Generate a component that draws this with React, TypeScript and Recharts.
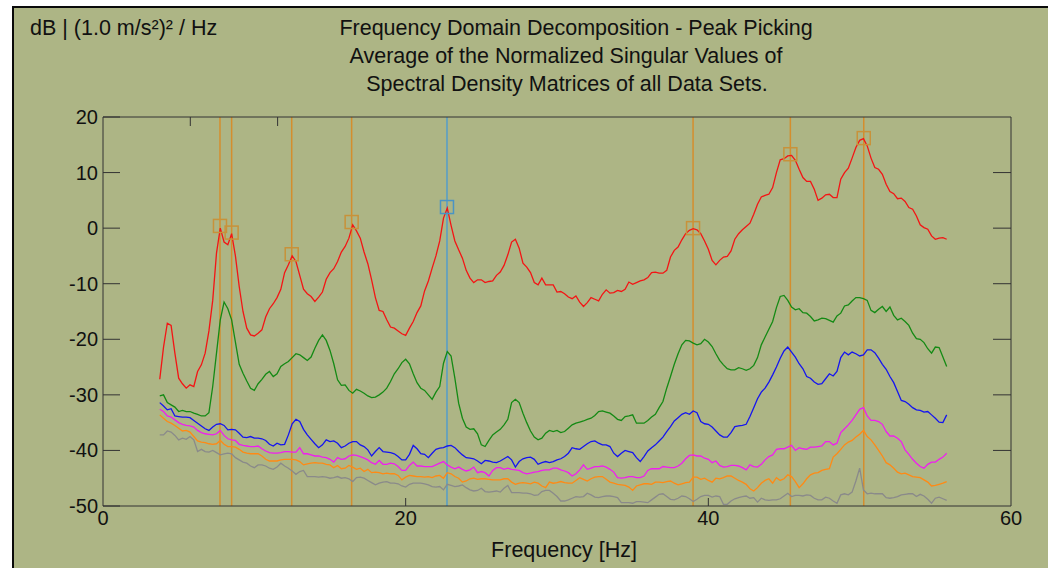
import { ComposedChart, Line, XAxis, YAxis, ReferenceLine, Scatter } from "recharts";

const FONT = '"Liberation Sans", Arial, sans-serif';
const BG = "#adb585";

// spectrum sampled every 0.25 Hz starting at 3.75 Hz
const START_HZ = 3.75;
const STEP_HZ = 0.25;

const sv1 = [
  -27.2,
  -21.4, -17.1, -17.5, -22.5, -27.0, -28.0, -28.8, -28.2,
  -28.5, -25.8, -24.6, -22.5, -18.5, -13.0, -4.5, 0.0,
  -2.5, -3.0, -1.0, -5.0, -10.5, -15.0, -18.0, -19.2,
  -19.4, -18.9, -18.3, -16.0, -14.5, -13.6, -12.5, -11.0,
  -8.0, -6.6, -5.0, -6.0, -8.5, -11.0, -11.8, -12.3,
  -13.2, -12.4, -11.5, -9.2, -8.0, -7.3, -6.0, -4.3,
  -3.3, -1.8, 0.6, -0.5, -1.8, -4.3, -6.4, -9.3,
  -12.5, -14.8, -15.0, -16.5, -17.8, -18.0, -18.5, -19.0,
  -19.3, -18.0, -16.8, -15.2, -14.0, -11.3, -9.5, -7.2,
  -5.0, -2.3, 1.8, 3.6, 0.5, -2.3, -3.9, -5.4,
  -7.6, -9.0, -9.8, -9.3, -9.3, -9.8, -9.6, -9.5,
  -8.5, -7.9, -6.7, -4.8, -2.5, -2.0, -3.6, -6.3,
  -7.0, -8.0, -9.8, -10.2, -9.0, -10.2, -10.2, -10.2,
  -11.5, -11.4, -11.8, -12.4, -12.7, -12.2, -13.3, -14.1,
  -13.4, -12.5, -12.8, -13.1, -11.9, -11.1, -11.7, -11.6,
  -11.2, -11.4, -11.0, -9.7, -10.1, -9.8, -9.5, -9.3,
  -8.9, -8.0, -7.9, -8.1, -8.1, -7.6, -5.2, -4.0,
  -3.4, -2.1, -1.0, -0.4, -0.1, -0.3, -1.0, -2.3,
  -3.8, -5.8, -6.6, -5.8, -5.2, -5.1, -4.1, -2.0,
  -1.0, -0.3, 0.3, 0.9, 2.5, 4.3, 5.6, 5.9,
  6.1, 7.3, 10.0, 12.3, 12.5, 13.0, 13.1, 12.2,
  10.6, 9.1, 8.4, 8.4, 7.0, 5.0, 5.4, 6.0,
  6.1, 5.5, 5.5, 8.8, 10.0, 10.8, 12.6, 14.5,
  15.8, 16.1, 14.8, 12.6, 10.9, 10.6, 9.7, 7.9,
  6.6, 6.2, 5.3, 5.4, 4.8, 3.7, 3.4, 2.2,
  0.6, 0.1, -0.2, -1.4, -2.0, -1.8, -1.7, -2.0,
];

const sv2 = [
  -30.2,
  -30.0, -31.4, -31.8, -32.2, -33.0, -32.8, -33.0, -33.0,
  -33.3, -33.5, -33.8, -33.8, -33.2, -28.5, -22.5, -16.5,
  -13.3, -14.5, -16.5, -20.5, -24.5, -26.1, -27.5, -28.8,
  -29.2, -28.0, -27.2, -26.3, -25.8, -26.7, -26.2, -24.9,
  -24.4, -24.0, -23.3, -22.6, -22.8, -23.3, -23.8, -23.2,
  -21.6, -20.2, -19.2, -20.2, -22.0, -24.4, -27.3, -28.3,
  -28.2, -29.2, -29.7, -29.0, -29.3, -29.7, -30.2, -30.5,
  -30.4, -30.0, -29.5, -28.8, -27.6, -26.2, -25.3, -24.2,
  -23.6, -24.4, -26.2, -27.8, -28.8, -29.2, -30.0, -30.8,
  -29.5, -28.5, -24.3, -22.2, -23.0, -27.0, -31.5, -34.2,
  -35.8, -36.2, -36.1, -37.0, -39.0, -39.3, -38.2, -37.2,
  -36.7, -36.2, -35.4, -34.4, -31.4, -30.8, -31.4, -33.3,
  -35.0, -36.5, -37.6, -38.1, -37.8, -36.9, -36.4, -36.6,
  -36.4, -36.8, -36.6, -36.0, -35.4, -35.1, -34.9, -34.7,
  -34.4, -34.2, -33.7, -33.0, -32.9, -33.1, -33.3, -33.8,
  -34.4, -34.6, -33.9, -33.8, -33.6, -35.1, -35.1, -35.1,
  -34.6, -34.0, -33.5, -32.3, -31.2, -28.8, -26.7, -24.5,
  -22.6, -21.0, -20.2, -20.3, -20.7, -21.0, -20.8, -20.0,
  -20.5, -21.3, -22.6, -23.8, -24.6, -25.3, -25.5, -25.5,
  -25.1, -25.3, -25.6, -25.3, -24.7, -23.3, -21.0, -19.6,
  -18.2, -16.8, -14.3, -12.3, -12.1, -13.0, -14.2, -14.7,
  -14.5, -15.2, -15.3, -15.9, -16.7, -16.5, -16.2, -16.3,
  -16.6, -16.9, -15.8, -15.3, -14.0, -13.8, -13.1, -12.5,
  -12.5, -12.7, -13.0, -14.8, -15.2, -14.6, -14.1, -15.0,
  -14.2, -15.7, -16.5, -16.2, -16.8, -17.5, -18.9, -19.9,
  -20.0, -20.6, -21.7, -22.5, -21.4, -21.5, -23.2, -24.9,
];

const sv3 = [
  -31.4,
  -32.0, -32.7, -32.5, -33.8, -33.9, -34.0, -34.0, -34.1,
  -34.6, -35.1, -35.6, -36.1, -36.4, -35.8, -35.3, -35.2,
  -35.5, -36.3, -36.2, -36.3, -36.9, -37.6, -37.7, -37.5,
  -37.8, -37.8, -37.9, -38.2, -38.9, -39.2, -38.7, -39.0,
  -38.9, -37.2, -35.2, -34.4, -34.8, -36.2, -37.2, -38.0,
  -38.8, -39.5, -39.0, -38.1, -38.4, -38.3, -38.7, -39.5,
  -39.2, -38.7, -38.4, -38.4, -39.0, -39.3, -39.9, -41.0,
  -40.2, -39.5, -40.2, -40.3, -40.4, -40.6, -41.1, -41.7,
  -41.7, -40.7, -39.1, -39.7, -40.6, -40.7, -41.3, -40.5,
  -39.8, -39.6, -39.5, -39.2, -39.1, -39.5, -40.2, -40.8,
  -41.3, -41.4, -41.5, -41.9, -42.4, -41.8, -41.9, -42.1,
  -42.2, -41.9, -41.5, -41.1, -41.7, -43.0, -42.0, -41.5,
  -41.3, -41.2, -41.6, -42.5, -42.2, -42.0, -42.2, -42.0,
  -41.7, -41.5, -41.1, -40.5, -39.5, -39.7, -39.8, -39.3,
  -38.8, -38.4, -38.3, -38.7, -39.0, -39.0, -39.3, -40.5,
  -41.1, -40.5, -40.0, -40.2, -40.4, -41.3, -42.0, -41.1,
  -40.1, -39.5, -39.0, -38.3, -37.6, -36.6, -35.7, -34.7,
  -34.1, -33.5, -33.2, -33.5, -32.9, -33.2, -34.8, -35.2,
  -35.3, -35.8, -36.5, -37.2, -37.6, -37.6, -36.8, -35.7,
  -35.6, -35.5, -35.3, -33.9, -32.3, -30.7, -29.5, -28.8,
  -27.7, -26.4, -25.0, -23.4, -22.1, -21.4, -22.3, -23.2,
  -24.4, -25.3, -26.7, -27.0, -27.7, -28.1, -28.0, -27.1,
  -26.2, -26.6, -25.8, -23.3, -22.3, -22.8, -22.3, -22.6,
  -23.0, -22.8, -21.9, -21.9, -22.4, -23.4, -24.5, -25.4,
  -26.7, -27.8, -29.4, -31.0, -31.2, -31.7, -32.3, -32.7,
  -32.8, -33.1, -33.0, -33.6, -34.2, -34.9, -35.0, -33.6,
];

const sv4 = [
  -32.6,
  -33.0, -33.8, -34.0, -34.5, -35.0, -35.3, -35.5, -35.6,
  -35.8, -36.4, -36.8, -37.0, -37.1, -37.2, -37.0, -36.4,
  -37.3, -37.9, -38.1, -38.2, -38.9, -39.1, -39.2, -39.3,
  -39.3, -39.2, -39.7, -40.1, -40.4, -40.5, -40.5, -40.4,
  -40.2, -40.2, -40.3, -40.3, -39.5, -40.6, -40.6, -40.8,
  -41.0, -41.0, -41.2, -41.3, -41.6, -42.1, -41.3, -41.6,
  -41.5, -41.0, -40.8, -40.9, -41.1, -41.4, -41.7, -42.2,
  -42.5, -41.8, -42.5, -42.5, -42.3, -42.4, -42.9, -43.6,
  -43.6, -42.7, -42.1, -42.8, -42.8, -42.9, -42.9, -42.9,
  -42.6, -42.3, -42.0, -42.6, -43.0, -43.3, -43.0, -43.4,
  -43.7, -43.5, -43.0, -44.0, -43.8, -44.0, -44.6, -43.6,
  -43.1, -43.1, -43.4, -43.2, -43.4, -43.5, -43.6, -44.0,
  -44.2, -44.1, -43.9, -43.8, -43.6, -43.5, -43.5, -43.2,
  -43.2, -43.5, -43.7, -44.0, -44.6, -44.2, -43.5, -42.6,
  -43.4, -43.2, -42.9, -42.9, -42.8, -43.0, -43.4, -43.9,
  -44.9, -45.0, -44.9, -44.7, -44.7, -44.9, -44.9, -44.6,
  -43.6, -43.3, -43.3, -43.3, -42.9, -43.0, -43.1, -43.1,
  -42.8, -42.3, -41.5, -40.9, -40.8, -41.0, -41.0, -41.4,
  -41.6, -42.2, -41.9, -42.7, -43.0, -42.9, -42.7, -42.7,
  -42.8, -43.1, -43.5, -42.6, -42.9, -43.0, -42.5, -41.7,
  -41.1, -40.8, -39.8, -39.7, -39.7, -39.4, -39.1, -40.0,
  -39.5, -39.7, -39.8, -39.4, -39.4, -39.3, -39.2, -38.4,
  -38.4, -39.0, -38.7, -36.8, -36.1, -35.4, -34.6, -33.6,
  -32.6, -32.3, -33.8, -34.6, -34.6, -34.8, -35.3, -36.6,
  -37.4, -37.4, -37.8, -38.4, -39.9, -40.7, -41.6, -42.3,
  -42.9, -43.2, -42.5, -42.1, -42.1, -41.6, -41.2, -40.5,
];

const sv5 = [
  -33.6,
  -34.2, -34.8, -35.1, -35.5, -36.0, -36.5, -36.4, -36.7,
  -37.5, -38.3, -38.5, -38.6, -38.8, -38.9, -38.8, -38.2,
  -38.9, -39.3, -39.3, -39.4, -39.8, -40.3, -40.5, -40.6,
  -40.6, -40.6, -41.0, -41.6, -41.9, -41.9, -41.9, -41.7,
  -41.6, -41.6, -41.6, -41.7, -42.0, -42.6, -42.4, -42.3,
  -42.2, -42.3, -42.3, -42.5, -42.6, -43.1, -42.7, -43.3,
  -43.2, -42.7, -43.0, -43.4, -43.2, -43.8, -43.4, -44.0,
  -43.9, -44.0, -44.2, -44.1, -44.2, -44.2, -44.5, -45.3,
  -44.8, -44.5, -44.6, -44.7, -44.7, -44.8, -44.7, -44.9,
  -44.6, -44.5, -45.0, -44.0, -44.2, -44.7, -45.0, -45.7,
  -45.5, -45.1, -45.0, -45.2, -45.1, -45.1, -45.2, -45.3,
  -45.3, -45.3, -45.1, -45.1, -45.7, -46.1, -45.9, -45.8,
  -45.9, -46.0, -45.7, -45.9, -46.4, -46.7, -45.7, -45.9,
  -45.8, -45.6, -45.8, -45.9, -45.9, -45.4, -44.9, -45.2,
  -45.5, -45.1, -44.8, -44.7, -44.7, -45.2, -45.7, -45.9,
  -46.1, -46.2, -46.3, -46.6, -47.2, -46.4, -46.2, -46.0,
  -46.0, -46.1, -45.7, -45.7, -45.8, -45.6, -45.5, -45.9,
  -46.2, -46.0, -45.8, -45.7, -44.8, -44.8, -45.2, -45.0,
  -45.4, -45.7, -45.0, -45.1, -44.9, -44.6, -44.6, -45.0,
  -45.4, -45.7, -46.1, -46.9, -47.3, -46.7, -45.9, -45.4,
  -45.1, -45.9, -44.9, -45.4, -45.1, -44.4, -44.7, -45.6,
  -46.7, -46.0, -45.1, -44.4, -44.1, -44.0, -43.6, -43.4,
  -43.3, -41.2, -40.6, -39.8, -39.0, -38.5, -38.2, -37.6,
  -37.1, -36.4, -37.5, -38.1, -39.0, -40.0, -41.0, -42.2,
  -42.6, -43.2, -43.9, -44.2, -44.1, -44.4, -44.7, -44.8,
  -44.9, -45.3, -45.7, -46.4, -46.3, -46.1, -45.9, -45.6,
];

const sv6 = [
  -37.2,
  -37.2, -36.5, -36.7, -37.3, -38.1, -37.8, -38.0, -37.5,
  -38.1, -40.2, -39.8, -40.2, -40.3, -40.0, -40.4, -40.8,
  -40.6, -40.5, -40.6, -41.3, -41.7, -42.1, -42.3, -42.8,
  -43.1, -42.6, -42.6, -42.8, -43.2, -43.4, -43.0, -42.3,
  -42.8, -43.2, -43.7, -44.3, -43.8, -43.6, -44.7, -44.7,
  -44.7, -44.8, -44.7, -44.8, -45.0, -44.9, -44.7, -45.0,
  -44.9, -45.1, -45.6, -44.9, -44.8, -45.0, -45.4, -45.8,
  -46.2, -45.9, -45.7, -45.6, -45.9, -45.9, -46.0, -46.4,
  -46.6, -46.1, -45.9, -45.9, -45.9, -46.0, -46.2, -46.5,
  -46.6, -46.5, -47.1, -46.1, -46.3, -46.5, -46.4, -46.2,
  -46.7, -47.1, -47.3, -47.2, -46.8, -47.4, -47.5, -47.4,
  -47.3, -47.5, -46.8, -46.3, -47.6, -47.6, -47.6, -47.7,
  -47.7, -47.8, -48.1, -48.0, -47.4, -47.2, -47.2, -47.7,
  -48.3, -49.1, -49.1, -48.9, -48.6, -48.3, -48.4, -48.3,
  -47.7, -48.0, -48.4, -48.5, -48.3, -48.2, -48.2, -48.3,
  -48.5, -49.4, -49.4, -49.4, -49.5, -49.2, -49.2, -49.3,
  -49.4, -48.9, -48.4, -47.9, -47.8, -48.3, -48.8, -48.9,
  -48.6, -48.2, -48.3, -48.7, -49.2, -48.8, -48.3, -48.1,
  -48.1, -48.4, -48.2, -48.3, -49.7, -49.7, -49.1, -48.7,
  -48.5, -48.3, -48.2, -48.6, -48.5, -49.3, -48.6, -48.9,
  -49.0, -48.9, -48.9, -48.7, -48.2, -47.7, -48.3, -48.1,
  -48.1, -48.2, -48.0, -48.1, -48.6, -48.9, -48.9, -48.4,
  -48.6, -49.1, -49.5, -48.0, -47.8, -48.0, -47.5, -45.5,
  -43.2, -47.1, -47.8, -47.7, -47.8, -47.8, -47.8, -48.5,
  -48.6, -48.5, -48.3, -48.0, -47.9, -47.8, -47.8, -48.3,
  -47.9, -48.2, -48.8, -49.5, -48.6, -48.4, -48.7, -49.0,
];

// picked peaks (Hz) and the level of their marker (dB)
const peakFreqs = [7.73, 8.5, 12.47, 16.43, 22.73, 38.99, 45.42, 50.27];
const peakLevels = [0.4, -0.8, -4.7, 1.1, 3.8, 0.0, 13.3, 16.2];
const selectedPeak = 22.73;

const yTicks = [20, 10, 0, -10, -20, -30, -40, -50];
const xTicks = [0, 20, 40, 60];

const series = [
  { key: "sv1", values: sv1, color: "#f41414" },
  { key: "sv2", values: sv2, color: "#148a14" },
  { key: "sv3", values: sv3, color: "#1414f0" },
  { key: "sv4", values: sv4, color: "#f01ef0" },
  { key: "sv5", values: sv5, color: "#ff8a14" },
  { key: "sv6", values: sv6, color: "#8a8a8a" },
];

const data = sv1.map((_, i) => {
  const row: any = { f: START_HZ + i * STEP_HZ };
  series.forEach((s) => (row[s.key] = s.values[i]));
  return row;
});

const peaks = peakFreqs.map((f, i) => ({ f, v: peakLevels[i], sel: f === selectedPeak }));

const AXIS = "#333";
const TEXT = "#111";

const LeftTick = ({ x, y, payload }: any) => (
  <g>
    <line x1={x} y1={y} x2={x + 17} y2={y} stroke={AXIS} />
    <text x={x - 5} y={y + 7} textAnchor="end" fontSize={20} fontFamily={FONT} fill={TEXT}>
      {payload.value}
    </text>
  </g>
);

const RightTick = ({ x, y }: any) => <line x1={x - 18} y1={y} x2={x} y2={y} stroke={AXIS} />;

const BottomTick = ({ x, y, payload }: any) => (
  <g>
    {payload.value > 0 && payload.value < 60 && (
      <line x1={x} y1={y} x2={x} y2={y - 8} stroke={AXIS} />
    )}
    <text x={x} y={y + 19} textAnchor="middle" fontSize={20} fontFamily={FONT} fill={TEXT}>
      {payload.value}
    </text>
  </g>
);

const TopTick = ({ x, y }: any) => <line x1={x} y1={y} x2={x} y2={y + 9} stroke={AXIS} />;

const PeakBox = ({ cx, cy, payload }: any) => (
  <rect
    x={cx - 6.5}
    y={cy - 6.5}
    width={13}
    height={13}
    fill="none"
    stroke={payload.sel ? "#4a94c4" : "#c8923a"}
    strokeWidth={1.5}
  />
);

export default function App() {
  return (
    <div style={{ position: "absolute", left: 0, top: 0, width: 1048, height: 568, background: "#fff", overflow: "hidden" }}>
      <div
        style={{
          position: "absolute",
          left: 12,
          top: 6,
          width: 1036,
          height: 562,
          boxSizing: "border-box",
          background: BG,
          borderTop: "2px solid #0a0a0a",
          borderLeft: "2px solid #0a0a0a",
        }}
      >
        <ComposedChart width={1034} height={560} data={data} margin={{ top: 0, right: 0, bottom: 0, left: 0 }}>
          <XAxis
            dataKey="f"
            type="number"
            domain={[0, 60]}
            ticks={xTicks}
            interval={0}
            allowDataOverflow
            height={62}
            tickSize={0}
            tickMargin={0}
            tickLine={false}
            axisLine={{ stroke: AXIS }}
            tick={<BottomTick />}
          />
          <XAxis
            xAxisId="top"
            orientation="top"
            type="number"
            domain={[0, 60]}
            ticks={[20, 40]}
            interval={0}
            allowDataOverflow
            height={109}
            tickSize={0}
            tickMargin={0}
            tickLine={false}
            axisLine={{ stroke: AXIS }}
            tick={<TopTick />}
          />
          <YAxis
            type="number"
            domain={[-50, 20]}
            ticks={yTicks}
            interval={0}
            allowDataOverflow
            width={89}
            tickSize={0}
            tickMargin={0}
            tickLine={false}
            axisLine={{ stroke: AXIS }}
            tick={<LeftTick />}
          />
          <YAxis
            yAxisId="right"
            orientation="right"
            type="number"
            domain={[-50, 20]}
            ticks={[10, 0, -10, -20, -30, -40]}
            interval={0}
            allowDataOverflow
            width={37}
            tickSize={0}
            tickMargin={0}
            tickLine={false}
            axisLine={{ stroke: AXIS }}
            tick={<RightTick />}
          />
          {peakFreqs.map((f) => (
            <ReferenceLine
              key={f}
              x={f}
              stroke={f === selectedPeak ? "#4a9ad0" : "#d88a24"}
              strokeWidth={1.5}
              strokeOpacity={0.9}
            />
          ))}
          {series.map((s) => (
            <Line
              key={s.key}
              dataKey={s.key}
              type="linear"
              stroke={s.color}
              strokeWidth={1.3}
              dot={false}
              activeDot={false}
              isAnimationActive={false}
            />
          ))}
          <Scatter data={peaks} dataKey="v" shape={<PeakBox />} isAnimationActive={false} />
        </ComposedChart>
      </div>
      <svg width={1048} height={568} style={{ position: "absolute", left: 0, top: 0, pointerEvents: "none" }}>
        <g fontFamily={FONT} fontSize={21.5} fill={TEXT}>
          <text x={30} y={35}>dB | (1.0 m/s²)² / Hz</text>
          <text x={576} y={35} textAnchor="middle">Frequency Domain Decomposition - Peak Picking</text>
          <text x={566} y={63} textAnchor="middle">Average of the Normalized Singular Values of</text>
          <text x={567} y={91} textAnchor="middle">Spectral Density Matrices of all Data Sets.</text>
          <text x={564} y={557} textAnchor="middle">Frequency [Hz]</text>
        </g>
      </svg>
    </div>
  );
}
